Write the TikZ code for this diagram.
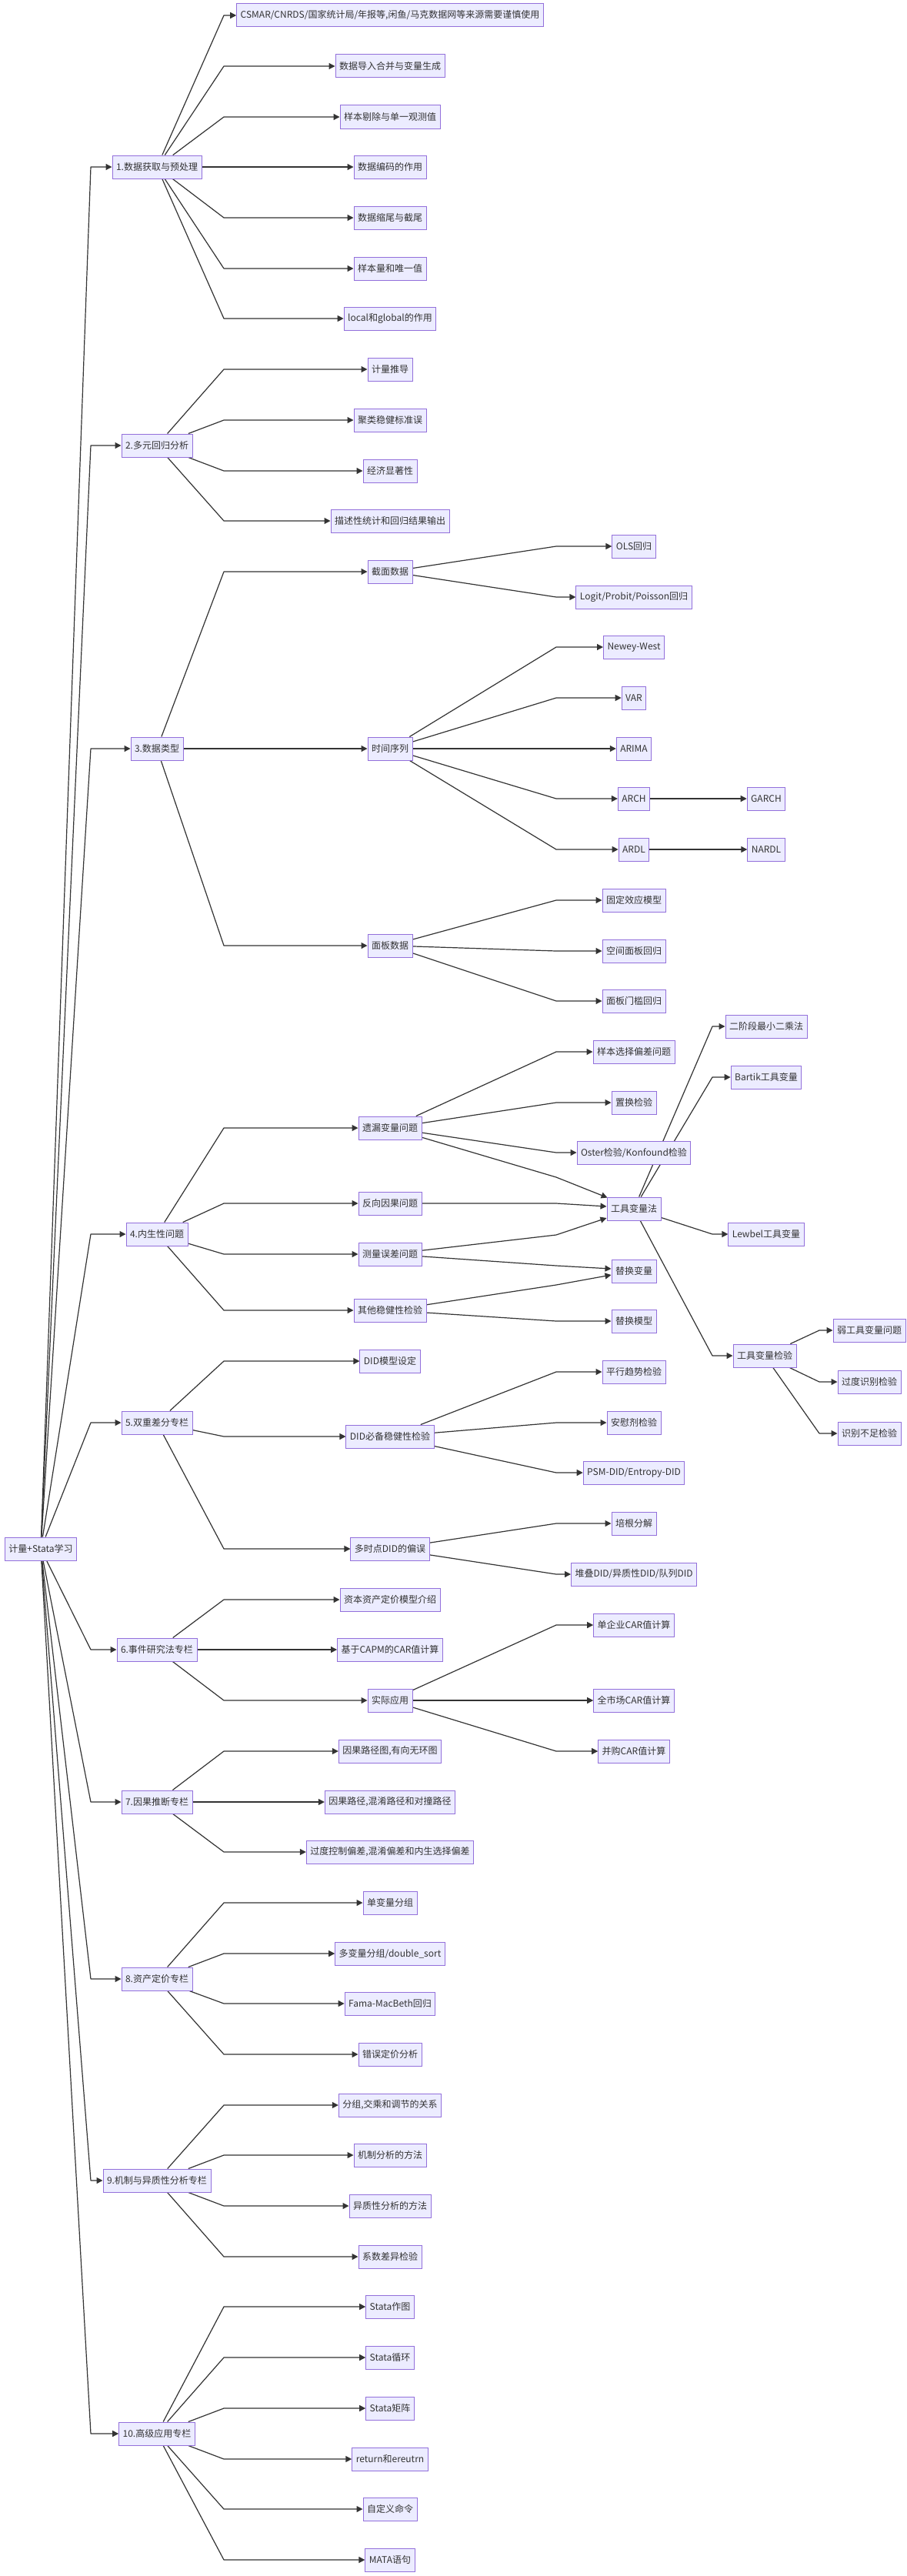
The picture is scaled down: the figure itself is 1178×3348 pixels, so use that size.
\documentclass[tikz,border=0pt]{standalone}
\usepackage{fontspec}
\setmainfont{Noto Sans CJK SC}
\usetikzlibrary{arrows.meta}
\definecolor{nodefill}{HTML}{ECECFF}
\definecolor{nodestroke}{HTML}{9370DB}
\definecolor{edgecol}{HTML}{333333}
\definecolor{txtcol}{HTML}{333333}
\pgfdeclarelayer{paper}
\pgfdeclarelayer{links}
\pgfsetlayers{paper,links,main}
\newcommand\mmlink[3]{\draw[edge] (#1) -- (#2.west -| #3) -- (#2.west);}
\begin{document}
\begin{tikzpicture}[x=1pt,y=1pt,
  box/.style={draw=nodestroke, fill=nodefill, line width=1pt, minimum height=30pt,
    inner xsep=5pt, inner ysep=0pt, font=\fontsize{12}{14}\selectfont, text=txtcol},
  edge/.style={draw=edgecol, line width=1.2pt, line join=round,
    -{Triangle[length=8pt,width=8pt]}}]
\useasboundingbox (0,0) rectangle (1178,-3348);
\begin{pgfonlayer}{paper}
\fill[white] (0,0) rectangle (1178,-3348);
\end{pgfonlayer}
\coordinate (k0) at (118,0);
\coordinate (k1) at (291,0);
\coordinate (k2) at (723,0);
\coordinate (k3) at (926,0);
\coordinate (k4) at (1065,0);

% root
\node[box] (R) at (53,-2013) {计量+Stata学习};

% level 1
\node[box] (A) at (204,-217) {1.数据获取与预处理};
\node[box] (B) at (204,-579) {2.多元回归分析};
\node[box] (C) at (204,-973) {3.数据类型};
\node[box] (D) at (204,-1604) {4.内生性问题};
\node[box] (E) at (204,-1849) {5.双重差分专栏};
\node[box] (F) at (204,-2144) {6.事件研究法专栏};
\node[box] (G) at (204,-2342) {7.因果推断专栏};
\node[box] (H) at (204,-2572) {8.资产定价专栏};
\node[box] (I) at (204,-2834) {9.机制与异质性分析专栏};
\node[box] (J) at (204,-3163) {10.高级应用专栏};

% level 2
\node[box] (A1) at (507,-20) {CSMAR/CNRDS/国家统计局/年报等,闲鱼/马克数据网等来源需要谨慎使用};
\node[box] (A2) at (507,-86) {数据导入合并与变量生成};
\node[box] (A3) at (507,-152) {样本剔除与单一观测值};
\node[box] (A4) at (507,-217) {数据编码的作用};
\node[box] (A5) at (507,-283) {数据缩尾与截尾};
\node[box] (A6) at (507,-349) {样本量和唯一值};
\node[box] (A7) at (507,-414) {local和global的作用};
\node[box] (B1) at (507,-480) {计量推导};
\node[box] (B2) at (507,-546) {聚类稳健标准误};
\node[box] (B3) at (507,-612) {经济显著性};
\node[box] (B4) at (507,-677) {描述性统计和回归结果输出};
\node[box] (C1) at (507,-743) {截面数据};
\node[box] (C2) at (507,-973) {时间序列};
\node[box] (C3) at (507,-1229) {面板数据};
\node[box] (D1) at (507,-1466) {遗漏变量问题};
\node[box] (D2) at (507,-1564) {反向因果问题};
\node[box] (D3) at (507,-1630) {测量误差问题};
\node[box] (D4) at (507,-1703) {其他稳健性检验};
\node[box] (E1) at (507,-1769) {DID模型设定};
\node[box] (E2) at (507,-1867) {DID必备稳健性检验};
\node[box] (E3) at (507,-2013) {多时点DID的偏误};
\node[box] (F1) at (507,-2079) {资本资产定价模型介绍};
\node[box] (F2) at (507,-2144) {基于CAPM的CAR值计算};
\node[box] (F3) at (507,-2210) {实际应用};
\node[box] (G1) at (507,-2276) {因果路径图,有向无环图};
\node[box] (G2) at (507,-2342) {因果路径,混淆路径和对撞路径};
\node[box] (G3) at (507,-2407) {过度控制偏差,混淆偏差和内生选择偏差};
\node[box] (H1) at (507,-2473) {单变量分组};
\node[box] (H2) at (507,-2539) {多变量分组/double\_sort};
\node[box] (H3) at (507,-2604) {Fama-MacBeth回归};
\node[box] (H4) at (507,-2670) {错误定价分析};
\node[box] (I1) at (507,-2736) {分组,交乘和调节的关系};
\node[box] (I2) at (507,-2801) {机制分析的方法};
\node[box] (I3) at (507,-2867) {异质性分析的方法};
\node[box] (I4) at (507,-2933) {系数差异检验};
\node[box] (J1) at (507,-2998) {Stata作图};
\node[box] (J2) at (507,-3064) {Stata循环};
\node[box] (J3) at (507,-3130) {Stata矩阵};
\node[box] (J4) at (507,-3196) {return和ereutrn};
\node[box] (J5) at (507,-3261) {自定义命令};
\node[box] (J6) at (507,-3327) {MATA语句};

% level 3
\node[box] (C1a) at (824,-710) {OLS回归};
\node[box] (C1b) at (824,-776) {Logit/Probit/Poisson回归};
\node[box] (C2a) at (824,-841) {Newey-West};
\node[box] (C2b) at (824,-907) {VAR};
\node[box] (C2c) at (824,-973) {ARIMA};
\node[box] (C2d) at (824,-1038) {ARCH};
\node[box] (C2e) at (824,-1104) {ARDL};
\node[box] (C3a) at (824,-1170) {固定效应模型};
\node[box] (C3b) at (824,-1236) {空间面板回归};
\node[box] (C3c) at (824,-1301) {面板门槛回归};
\node[box] (D1a) at (824,-1367) {样本选择偏差问题};
\node[box] (D1b) at (824,-1433) {置换检验};
\node[box] (D1c) at (824,-1498) {Oster检验/Konfound检验};
\node[box] (IV) at (824,-1571) {工具变量法};
\node[box] (RV) at (824,-1652) {替换变量};
\node[box] (RM) at (824,-1717) {替换模型};
\node[box] (E2a) at (824,-1783) {平行趋势检验};
\node[box] (E2b) at (824,-1849) {安慰剂检验};
\node[box] (E2c) at (824,-1914) {PSM-DID/Entropy-DID};
\node[box] (E3a) at (824,-1980) {培根分解};
\node[box] (E3b) at (824,-2046) {堆叠DID/异质性DID/队列DID};
\node[box] (F3a) at (824,-2112) {单企业CAR值计算};
\node[box] (F3b) at (824,-2210) {全市场CAR值计算};
\node[box] (F3c) at (824,-2276) {并购CAR值计算};

% level 4
\node[box] (GA) at (996,-1038) {GARCH};
\node[box] (NA) at (996,-1104) {NARDL};
\node[box] (IV1) at (996,-1334) {二阶段最小二乘法};
\node[box] (IV2) at (996,-1400) {Bartik工具变量};
\node[box] (IV3) at (996,-1604) {Lewbel工具变量};
\node[box] (IV4) at (994,-1762) {工具变量检验};

% level 5
\node[box] (W1) at (1130,-1729) {弱工具变量问题};
\node[box] (W2) at (1130,-1796) {过度识别检验};
\node[box] (W3) at (1130,-1863) {识别不足检验};

\begin{pgfonlayer}{links}
% root links
\foreach \t in {A,B,C,D,E,F,G,H,I,J} {\mmlink{R}{\t}{k0}}

% level1 -> level2
\foreach \t in {A1,A2,A3,A4,A5,A6,A7} {\mmlink{A}{\t}{k1}}
\foreach \t in {B1,B2,B3,B4} {\mmlink{B}{\t}{k1}}
\foreach \t in {C1,C2,C3} {\mmlink{C}{\t}{k1}}
\foreach \t in {D1,D2,D3,D4} {\mmlink{D}{\t}{k1}}
\foreach \t in {E1,E2,E3} {\mmlink{E}{\t}{k1}}
\foreach \t in {F1,F2,F3} {\mmlink{F}{\t}{k1}}
\foreach \t in {G1,G2,G3} {\mmlink{G}{\t}{k1}}
\foreach \t in {H1,H2,H3,H4} {\mmlink{H}{\t}{k1}}
\foreach \t in {I1,I2,I3,I4} {\mmlink{I}{\t}{k1}}
\foreach \t in {J1,J2,J3,J4,J5,J6} {\mmlink{J}{\t}{k1}}

% level2 -> level3
\foreach \t in {C1a,C1b} {\mmlink{C1}{\t}{k2}}
\foreach \t in {C2a,C2b,C2c,C2d,C2e} {\mmlink{C2}{\t}{k2}}
\foreach \t in {C3a,C3b,C3c} {\mmlink{C3}{\t}{k2}}
\foreach \t in {D1a,D1b,D1c} {\mmlink{D1}{\t}{k2}}
\draw[edge] (D1) -- (723,-1530) -- ([xshift=1pt,yshift=-1pt]IV.north west);
\draw[edge] (D2) -- (723,-1564) -- ([yshift=3pt]IV.west);
\draw[edge] (D3) -- (723,-1605) -- ([yshift=-12pt]IV.west);
\draw[edge] (D3) -- (723,-1645) -- ([yshift=3pt]RV.west);
\draw[edge] (D4) -- (723,-1670) -- ([yshift=-5pt]RV.west);
\mmlink{D4}{RM}{k2}
\foreach \t in {E2a,E2b,E2c} {\mmlink{E2}{\t}{k2}}
\foreach \t in {E3a,E3b} {\mmlink{E3}{\t}{k2}}
\foreach \t in {F3a,F3b,F3c} {\mmlink{F3}{\t}{k2}}

% level3 -> level4
\mmlink{C2d}{GA}{k3}
\mmlink{C2e}{NA}{k3}
\foreach \t in {IV1,IV2,IV3,IV4} {\mmlink{IV}{\t}{k3}}

% level4 -> level5
\foreach \t in {W1,W2,W3} {\mmlink{IV4}{\t}{k4}}
\end{pgfonlayer}
\end{tikzpicture}
\end{document}
